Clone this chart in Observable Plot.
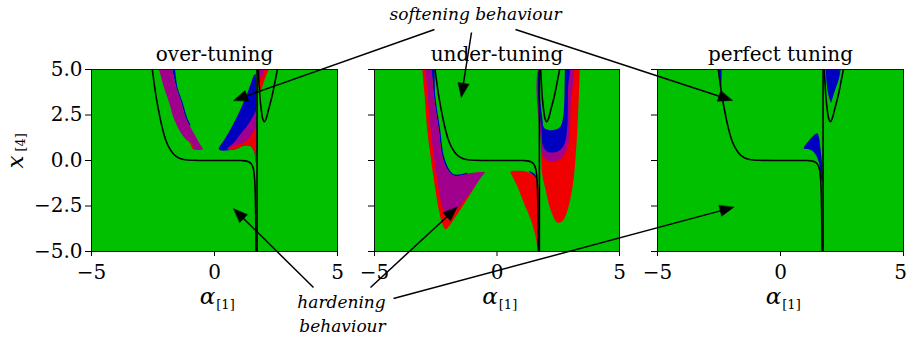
<!DOCTYPE html>
<html><head><meta charset="utf-8">
<script src="https://cdn.jsdelivr.net/npm/d3@7"></script>
<script src="https://cdn.jsdelivr.net/npm/@observablehq/plot@0.6"></script>
<style>
body{margin:0;background:#fff;}
#fig{position:relative;width:906px;height:340px;overflow:hidden;background:#fff;}
#fig > svg{position:absolute;top:0;}
</style></head><body><div id="fig"></div>
<script>
// ---------- colours ----------
const GREEN = "#00c000", BLUE = "#0000c0", PURPLE = "#a0008c", RED = "#f00000";

// ---------- texts / ticks ----------
const panelTitles = ["over-tuning", "under-tuning", "perfect tuning"];
const xTicks = [-5, 0, 5];
const yTicks = [5, 2.5, 0, -2.5, -5];
const xLabel = ["α", "[1]"];
const yLabel = ["x", "[4]"];
const softeningText = ["softening behaviour"];
const hardeningText = ["hardening", "behaviour"];

// ---------- black curves (alpha_[1], x_[4]) ----------
const backbone = [[-2.57,5.3],[-2.53,5],[-2.45,4.2],[-2.36,3.4],[-2.25,2.6],[-2.14,1.9],[-2.0,1.2],[-1.85,0.72],[-1.65,0.33],[-1.45,0.14],[-1.2,0.04],[-0.9,0.01],[0,0],[1.0,0],[1.25,-0.02],[1.4,-0.08],[1.5,-0.2],[1.58,-0.45],[1.63,-1.0],[1.66,-2],[1.68,-3.5],[1.69,-5.3]];
const loopCurve = [[1.77,5.3],[1.8,4.5],[1.84,3.6],[1.9,2.8],[1.96,2.3],[2.03,2.13],[2.1,2.3],[2.2,2.8],[2.35,3.6],[2.47,4.4],[2.6,5.3]];
const verticalLine = [1.73];

// ---------- coloured regions: over-tuning ----------
const p1LeftBlue = [[-1.78,5.3],[-1.68,5.3],[-1.5,4.0],[-1.3,3.2],[-1.12,2.38],[-0.98,1.95],[-1.0,1.9],[-1.18,2.38],[-1.35,3.2],[-1.55,4.0],[-1.72,5]];
const p1LeftRed = [[-1.2,1.3],[-1.0,0.95],[-0.86,0.6],[-0.7,0.58],[-0.8,0.62],[-0.91,0.92],[-1.15,1.15]];
const p1LeftPurple = [[-2.29,5.3],[-2.25,5],[-2.05,4.0],[-1.85,3.2],[-1.67,2.38],[-1.4,1.6],[-1.15,1.15],[-0.91,0.92],[-0.8,0.62],[-0.48,0.62],[-0.6,0.92],[-0.8,1.4],[-1.0,1.9],[-1.18,2.38],[-1.35,3.2],[-1.55,4.0],[-1.72,5],[-1.75,5.3]];
const p1WedgeBlue = [[0.18,0.6],[0.4,1.15],[0.65,1.72],[0.87,2.3],[1.06,2.82],[1.25,3.4],[1.39,3.92],[1.52,4.4],[1.6,4.67],[1.66,4.75],[1.69,4.5],[1.69,2],[1.69,0.5],[1.69,-0.15],[1.67,0.0],[1.6,0.55],[1.46,0.79],[1.19,0.82],[1.0,0.7],[0.78,0.6]];
const p1WedgePurple = [[0.5,0.6],[0.52,0.66],[0.8,1.0],[1.06,1.45],[1.3,1.85],[1.46,2.18],[1.6,2.5],[1.67,2.72],[1.69,2.5],[1.69,0.5],[1.6,0.55],[1.46,0.79],[1.19,0.82],[1.0,0.7],[0.78,0.6]];
const p1WedgeRed = [[0.58,0.6],[0.65,0.71],[0.9,0.85],[1.19,0.99],[1.4,1.2],[1.53,1.45],[1.63,1.7],[1.67,1.81],[1.69,1.5],[1.69,0.5],[1.69,-0.15],[1.67,0.0],[1.6,0.55],[1.46,0.79],[1.19,0.82],[1.0,0.7],[0.78,0.6]];
const p1TopRed = [[1.74,5.3],[1.76,4.5],[1.8,4.0],[1.86,3.75],[1.95,4.1],[2.08,4.6],[2.2,5.0],[2.24,5.3]];
const p1TopPurple = [[1.8,5.3],[1.82,4.8],[1.9,4.55],[1.98,4.8],[2.02,5.3]];

// ---------- coloured regions: under-tuning ----------
const p2LeftBlue = [[-2.69,5.3],[-2.6,5.3],[-2.52,3.55],[-2.32,1.72],[-2.18,0.3],[-1.98,-0.42],[-1.76,-0.76],[-1.49,-0.76],[-1.2,-0.68],[-1.22,-0.75],[-1.49,-0.84],[-1.76,-0.84],[-2.03,-0.48],[-2.24,0.26],[-2.38,1.72],[-2.58,3.55],[-2.67,5]];
const p2LeftRed = [[-3.07,5.3],[-3.05,5],[-2.95,3.5],[-2.85,1.72],[-2.72,0.3],[-2.58,-1.03],[-2.38,-2.68],[-2.25,-3.4],[-2.1,-3.77],[-1.95,-3.6],[-1.76,-3.23],[-1.5,-2.7],[-1.22,-2.13],[-0.95,-1.55],[-0.67,-0.93],[-0.51,-0.66],[-0.8,-0.66],[-1.08,-0.7],[-1.49,-0.84],[-1.76,-0.84],[-2.03,-0.48],[-2.24,0.26],[-2.38,1.72],[-2.58,3.55],[-2.67,5],[-2.69,5.3]];
const p2LeftPurple = [[-2.95,5.3],[-2.92,5],[-2.82,3.5],[-2.71,1.72],[-2.58,0.3],[-2.44,-1.03],[-2.24,-2.49],[-2.13,-2.85],[-2.03,-3.04],[-1.85,-2.95],[-1.62,-2.68],[-1.35,-2.2],[-1.08,-1.76],[-0.85,-1.3],[-0.6,-0.84],[-0.51,-0.66],[-0.8,-0.66],[-1.08,-0.7],[-1.49,-0.84],[-1.76,-0.84],[-2.03,-0.48],[-2.24,0.26],[-2.38,1.72],[-2.58,3.55],[-2.67,5],[-2.69,5.3]];
const p2MidBlue = [[1.3,-0.6],[1.45,-0.66],[1.58,-0.83],[1.66,-1.3],[1.7,-1.9],[1.68,-1.6],[1.57,-0.98],[1.4,-0.72]];
const p2MidRed = [[0.55,-0.62],[0.96,-0.57],[1.3,-0.66],[1.57,-0.93],[1.71,-1.58],[1.73,-3],[1.73,-5.3],[1.71,-5.3],[1.57,-4.14],[1.37,-3.23],[1.09,-2.31],[0.82,-1.39],[0.62,-0.85]];
const p2URed = [[1.78,5.3],[1.78,3],[1.8,0.5],[1.85,-0.8],[1.98,-1.58],[2.18,-2.68],[2.46,-3.41],[2.65,-3.35],[2.8,-3.04],[3.07,-1.58],[3.24,0.81],[3.34,3.55],[3.38,5],[3.39,5.3]];
const p2UPurple = [[1.8,5.3],[1.8,1],[1.86,0.3],[2.05,0.0],[2.3,-0.05],[2.6,0.1],[2.85,0.6],[2.97,1.6],[3.0,3],[3.02,5.3]];
const p2UBlue = [[1.83,5.3],[1.83,1.5],[1.88,0.8],[2.05,0.5],[2.3,0.44],[2.55,0.55],[2.75,0.9],[2.85,1.6],[2.89,2.5],[2.9,4],[2.9,5.3]];
const p2UGreen = [[1.86,5.3],[1.86,2.2],[1.92,1.8],[2.1,1.68],[2.4,1.7],[2.6,1.9],[2.7,2.4],[2.75,3.5],[2.77,5],[2.78,5.3]];

// ---------- coloured regions: perfect tuning ----------
const p3MidBlue = [[0.95,0.66],[1.15,1.08],[1.36,1.39],[1.49,1.5],[1.56,1.3],[1.62,0.7],[1.68,0.0],[1.71,-0.8],[1.7,-1.2],[1.65,-1.0],[1.56,-0.11],[1.42,0.35],[1.22,0.59]];
const p3TopBlue = [[1.83,5.3],[1.84,5],[1.87,4.29],[1.96,3.55],[2.06,3.19],[2.1,3.37],[2.23,3.92],[2.37,4.47],[2.44,5],[2.45,5.3]];
const p3Sliver = [[-2.5,5.3],[-2.43,5.3],[-2.4,4.4],[-2.42,4.0],[-2.47,4.6]];

const panelRegions = [
  [[p1LeftBlue, BLUE], [p1LeftRed, RED], [p1LeftPurple, PURPLE], [p1WedgeBlue, BLUE], [p1WedgePurple, PURPLE], [p1WedgeRed, RED], [p1TopRed, RED], [p1TopPurple, PURPLE]],
  [[p2LeftBlue, BLUE], [p2LeftRed, RED], [p2LeftPurple, PURPLE], [p2MidBlue, BLUE], [p2MidRed, RED], [p2URed, RED], [p2UPurple, PURPLE], [p2UBlue, BLUE], [p2UGreen, GREEN]],
  [[p3MidBlue, BLUE], [p3TopBlue, BLUE], [p3Sliver, BLUE]]
];

// ---------- annotation arrows: [panel, alpha, x4] targets, figure-pixel sources ----------
const softeningTargets = [[0, 0.78, 3.3], [1, -1.46, 3.48], [2, -1.96, 3.3]];
const softeningSources = [[434, 29], [471, 32], [515, 29]];
const hardeningTargets = [[0, 0.78, -2.65], [1, -1.63, -2.57], [2, -1.9, -2.57]];
const hardeningSources = [[313, 287], [370, 287], [393, 298]];

// ---------- layout ----------
const H = 340, MT = 69, MB = 89;
const layout = [
  {left: 0, width: 356, ml: 91, mr: 19},
  {left: 356, width: 282, ml: 18, mr: 19},
  {left: 638, width: 268, ml: 19, mr: 3}
];
const FONT = "DejaVu Serif";
const TICK = 5, PAD = 8;
const fig = document.getElementById("fig");
const X = d => d[0], Y = d => d[1];
const fmtX = d3.format("d");

layout.forEach((L, i) => {
  const last = i === layout.length - 1;
  const marks = [
    Plot.frame({fill: GREEN, stroke: null}),
    ...panelRegions[i].map(([pts, color]) => Plot.line(pts, {x: X, y: Y, fill: color, stroke: null, curve: "catmull-rom-closed", clip: true})),
    Plot.line(backbone, {x: X, y: Y, stroke: "black", strokeWidth: 1.6, curve: "catmull-rom", clip: true}),
    Plot.line(loopCurve, {x: X, y: Y, stroke: "black", strokeWidth: 1.6, curve: "catmull-rom", clip: true}),
    Plot.ruleX(verticalLine, {stroke: "black", strokeWidth: 1.6}),
    Plot.frame({stroke: "#111", strokeWidth: 1}),
    Plot.axisX({ticks: xTicks, tickSize: TICK, tickPadding: PAD, fontSize: 20, label: null,
      tickFormat: last ? (d => d === xTicks[xTicks.length - 1] ? "" : fmtX(d)) : fmtX}),
    Plot.axisY({ticks: yTicks, tickSize: 6, tickPadding: 3, fontSize: 20, label: null,
      tickFormat: i === 0 ? d3.format(".1f") : () => ""}),
    Plot.text([panelTitles[i]], {frameAnchor: "top", dy: -9, lineAnchor: "bottom", fontSize: 20, text: d => d}),
    Plot.text([xLabel[0]], {frameAnchor: "bottom", dy: 52, dx: -7, lineAnchor: "bottom", fontSize: 23, fontStyle: "italic", text: d => d}),
    Plot.text([xLabel[1]], {frameAnchor: "bottom", dy: 57, dx: 11, lineAnchor: "bottom", fontSize: 13, text: d => d})
  ];
  if (last) {
    // right-most tick label kept inside the picture
    marks.push(Plot.text([xTicks[xTicks.length - 1]], {x: d => d, frameAnchor: "bottom", dy: TICK + PAD, dx: -3, lineAnchor: "top", fontSize: 20, text: d => fmtX(d)}));
  }
  if (i === 0) {
    marks.push(
      Plot.text([yLabel[0]], {frameAnchor: "left", dx: -76, dy: 8, rotate: -90, fontSize: 23, fontStyle: "italic", text: d => d}),
      Plot.text([yLabel[1]], {frameAnchor: "left", dx: -71, dy: -9, rotate: -90, fontSize: 13, text: d => d})
    );
  }
  const svg = Plot.plot({
    width: L.width, height: H,
    marginLeft: L.ml, marginRight: L.mr, marginTop: MT, marginBottom: MB,
    x: {domain: [-5, 5]}, y: {domain: [-5, 5]},
    style: {fontFamily: FONT, background: "transparent", overflow: "visible", color: "black"},
    marks
  });
  svg.style.left = L.left + "px";
  fig.appendChild(svg);
});

// ---------- overlay with annotations ----------
const pxScales = layout.map(L => ({
  x: Plot.scale({x: {domain: [-5, 5], range: [L.left + L.ml, L.left + L.width - L.mr]}}),
  y: Plot.scale({y: {domain: [-5, 5], range: [H - MB, MT]}})
}));
function buildArrows(targets, sources) {
  return targets.map(([p, a, v], k) => ({
    x1: sources[k][0], y1: sources[k][1],
    x2: pxScales[p].x.apply(a), y2: pxScales[p].y.apply(v)
  }));
}
const arrows = [...buildArrows(softeningTargets, softeningSources), ...buildArrows(hardeningTargets, hardeningSources)];
const HEAD_L = 14, HEAD_W = 5.5;
const unit = a => { const dx = a.x2 - a.x1, dy = a.y2 - a.y1, len = Math.hypot(dx, dy); return [dx / len, dy / len]; };
const shafts = arrows.map(a => {
  const [ux, uy] = unit(a);
  return {x1: a.x1, y1: a.y1, x2: a.x2 - ux * (HEAD_L - 2), y2: a.y2 - uy * (HEAD_L - 2)};
});
const heads = arrows.flatMap((a, k) => {
  const [ux, uy] = unit(a), nx = -uy, ny = ux;
  const bx = a.x2 - ux * HEAD_L, by = a.y2 - uy * HEAD_L;
  return [
    {k, x: a.x2, y: a.y2},
    {k, x: bx + nx * HEAD_W, y: by + ny * HEAD_W},
    {k, x: bx - nx * HEAD_W, y: by - ny * HEAD_W}
  ];
});
const textAnchors = [
  {t: softeningText[0], x: 475, y: 19},
  {t: hardeningText[0], x: 341, y: 307},
  {t: hardeningText[1], x: 342, y: 331}
];
const overlay = Plot.plot({
  width: 906, height: H, margin: 0,
  x: {domain: [0, 906], range: [0, 906], axis: null},
  y: {domain: [0, H], range: [0, H], axis: null},
  style: {fontFamily: FONT, background: "transparent", overflow: "visible", pointerEvents: "none"},
  marks: [
    Plot.link(shafts, {x1: "x1", y1: "y1", x2: "x2", y2: "y2", stroke: "black", strokeWidth: 1.5}),
    Plot.line(heads, {x: "x", y: "y", z: "k", fill: "black", stroke: "black", strokeWidth: 0.5, curve: "linear-closed"}),
    Plot.text(textAnchors, {x: "x", y: "y", text: "t", lineAnchor: "bottom", fontSize: 17, fontStyle: "italic", fill: "black"})
  ]
});
overlay.style.left = "0px";
fig.appendChild(overlay);
</script></body></html>
